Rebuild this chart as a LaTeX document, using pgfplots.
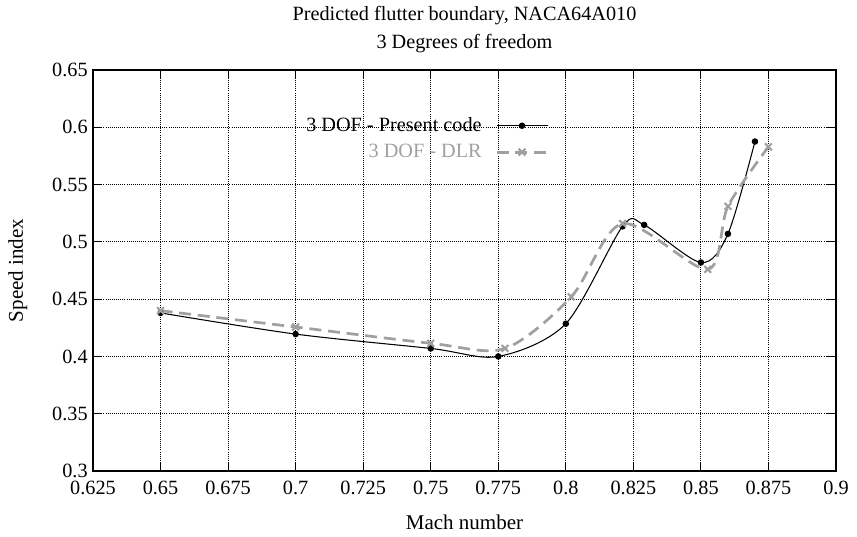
\documentclass[border=0pt]{standalone}
\usepackage{fontspec}
\setmainfont{Liberation Serif}
\usepackage{pgfplots}
\pgfplotsset{compat=1.18}
\definecolor{dlrgray}{RGB}{160,160,160}
\begin{document}
\begin{tikzpicture}
\path[use as bounding box] (-62pt,-44pt) rectangle (509.5pt,314.1pt);
\begin{axis}[
  scale only axis,
  width=495.5pt, height=267.4pt,
  anchor=south west, at={(0pt,0pt)},
  xmin=0.625, xmax=0.9, ymin=0.3, ymax=0.65,
  xtick={0.625,0.65,0.675,0.7,0.725,0.75,0.775,0.8,0.825,0.85,0.875,0.9},
  xticklabels={0.625,0.65,0.675,0.7,0.725,0.75,0.775,0.8,0.825,0.85,0.875,0.9},
  ytick={0.3,0.35,0.4,0.45,0.5,0.55,0.6,0.65},
  yticklabels={0.3,0.35,0.4,0.45,0.5,0.55,0.6,0.65},
  tick align=inside,
  major tick length=6pt,
  grid=major,
  major grid style={black, densely dotted, line width=0.6pt},
  axis line style={black, line width=0.8pt},
  tick style={black, line width=0.6pt},
  xlabel={Mach number},
  ylabel={Speed index},
  title={Predicted flutter boundary, NACA64A010\\3 Degrees of freedom},
  title style={align=center, font=\fontsize{13.5pt}{18.7pt}\selectfont, at={(axis description cs:0.5,1)}, anchor=south, yshift=2pt},
  legend style={draw=none, fill=none, at={(axis cs:0.7955,0.614)}, anchor=north east, row sep=3pt, column sep=7pt, font=\fontsize{13.5pt}{16pt}\selectfont},
  legend cell align=right,
  legend plot pos=right,
  legend image code/.code={\draw[mark repeat=2,mark phase=2,#1] plot coordinates {(0pt,0pt)(17pt,0pt)(34pt,0pt)};},
  xticklabel style={font=\fontsize{13.5pt}{16pt}\selectfont, yshift=-3pt},
  yticklabel style={font=\fontsize{13.5pt}{16pt}\selectfont},
  xlabel style={font=\fontsize{14pt}{16pt}\selectfont, at={(axis description cs:0.5,-0.127)}, anchor=center},
  ylabel style={font=\fontsize{14pt}{16pt}\selectfont, at={(axis description cs:-0.101,0.5)}, anchor=center},
]
\addplot[black, line width=0.7pt, smooth, tension=0.5, mark=*, mark size=1.8pt, mark options={solid}] coordinates {
  (0.65,0.438) (0.7,0.4195) (0.75,0.407) (0.775,0.400) (0.8,0.4286)
  (0.821,0.5135) (0.829,0.5148) (0.85,0.482) (0.86,0.507) (0.87,0.5876)
};
\addlegendentry{3 DOF - Present code}
\addplot[dlrgray, line width=1.8pt, smooth, tension=0.5, dash pattern=on 8pt off 4.5pt, mark=x, mark size=3.2pt, mark options={solid, line width=1.4pt}] coordinates {
  (0.65,0.440) (0.7,0.4257) (0.75,0.4115) (0.7775,0.407) (0.802,0.452)
  (0.821,0.516) (0.8525,0.476) (0.86,0.531) (0.875,0.583)
};
\addlegendentry{\textcolor{dlrgray}{3 DOF - DLR}}
\end{axis}
\end{tikzpicture}
\end{document}
